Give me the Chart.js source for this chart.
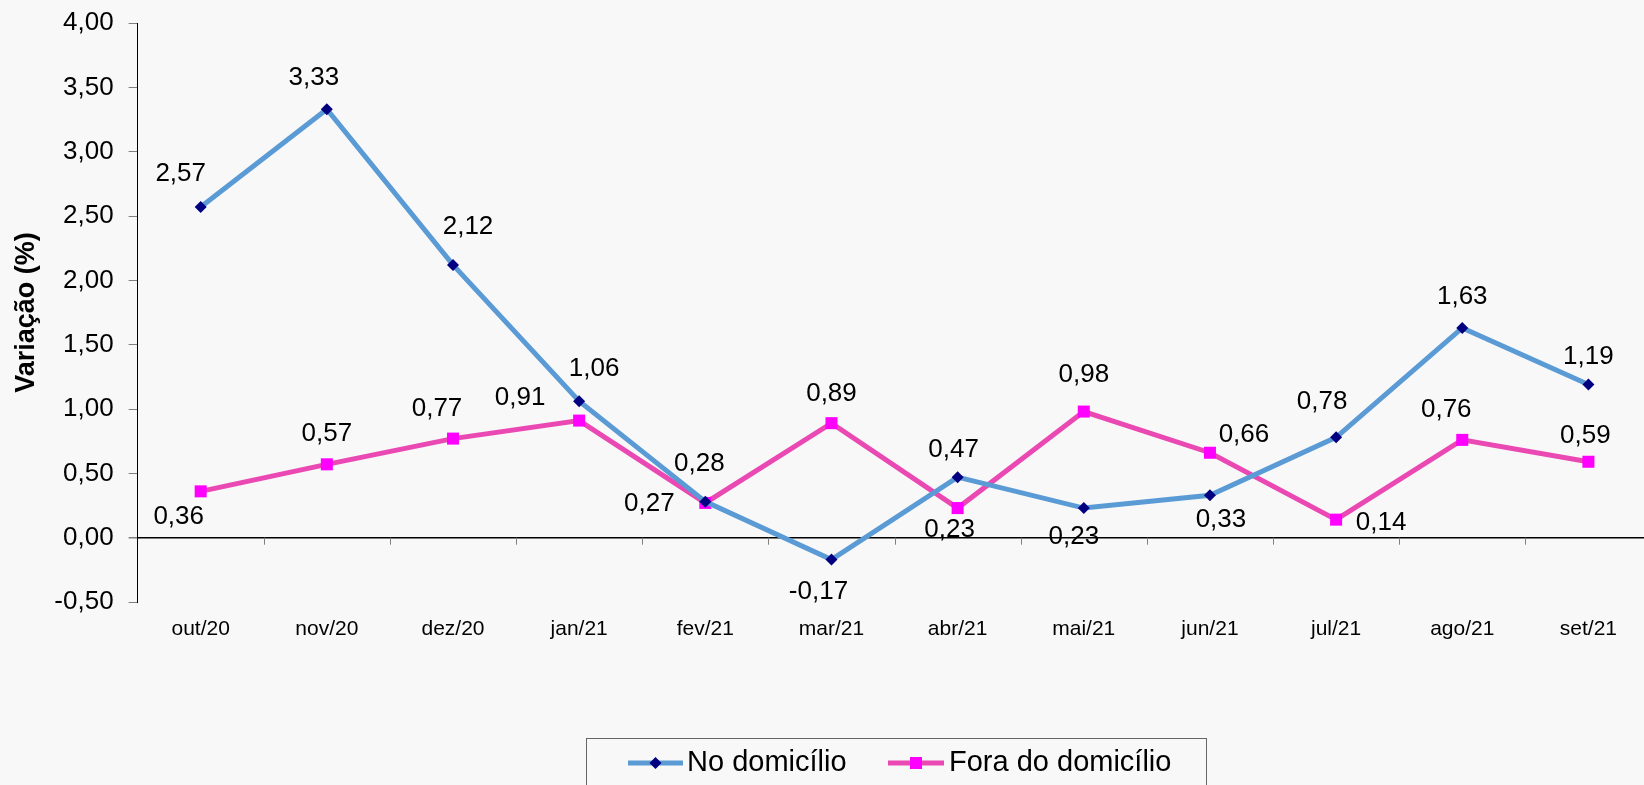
<!DOCTYPE html>
<html lang="pt">
<head>
  <meta charset="UTF-8">
  <title>Variação (%) - No domicílio / Fora do domicílio</title>
  <style>
    html, body {
      margin: 0;
      padding: 0;
      background: #f8f8f8;
      overflow: hidden;
    }
    #wrap {
      position: relative;
      width: 1660px;
      height: 785px;
    }
  </style>
</head>
<body>

  <div id="wrap">
    <canvas id="chartCanvas"></canvas>
  </div>

  <script src="https://cdn.jsdelivr.net/npm/chart.js"></script>

  <script>
    // dados
    const meses = ['out/20', 'nov/20', 'dez/20', 'jan/21', 'fev/21', 'mar/21',
                   'abr/21', 'mai/21', 'jun/21', 'jul/21', 'ago/21', 'set/21'];
    const noDomicilio = [2.57, 3.33, 2.12, 1.06, 0.28, -0.17, 0.47, 0.23, 0.33, 0.78, 1.63, 1.19];
    const foraDomicilio = [0.36, 0.57, 0.77, 0.91, 0.27, 0.89, 0.23, 0.98, 0.66, 0.14, 0.76, 0.59];
    const nomes = ['No domicílio', 'Fora do domicílio'];

    // deslocamento dos rótulos em px (dx, dy) em relação ao ponto
    const rotulosNo = [[-20, -33], [-13, -31], [15, -38], [15, -32], [-6, -38], [-13, 32],
                       [-4, -27], [-10, 29], [11, 25], [-14, -35], [0, -31], [0, -28]];
    const rotulosFora = [[-22, 25], [0, -30], [-16, -30], [-59, -23], [-56, 1], [0, -29],
                         [-8, 22], [0, -37], [34, -18], [45, 3], [-16, -30], [-3, -26]];

    const fonte = '"Liberation Sans", Arial, sans-serif';
    const fmt = v => v.toFixed(2).replace('.', ',');

    // rótulos de valor
    const valueLabels = {
      id: 'valueLabels',
      afterDatasetsDraw(chart) {
        const ctx = chart.ctx;
        const offs = [rotulosNo, rotulosFora];
        ctx.save();
        ctx.font = '26px ' + fonte;
        ctx.fillStyle = '#000';
        ctx.textAlign = 'center';
        ctx.textBaseline = 'middle';
        chart.data.datasets.forEach((ds, d) => {
          chart.getDatasetMeta(d).data.forEach((pt, i) => {
            const o = offs[d][i];
            ctx.fillText(fmt(ds.data[i]), pt.x + o[0], pt.y + o[1]);
          });
        });
        ctx.restore();
      }
    };

    // marcas do eixo das categorias sobre a linha do zero
    const zeroTicks = {
      id: 'zeroTicks',
      beforeDatasetsDraw(chart) {
        const ctx = chart.ctx;
        const x = chart.scales.x;
        const y0 = chart.scales.y.getPixelForValue(0);
        ctx.save();
        ctx.strokeStyle = '#808080';
        ctx.lineWidth = 1;
        ctx.beginPath();
        for (let i = 1; i <= meses.length; i++) {
          const px = Math.round(x.getPixelForValue(i - 0.5)) + 0.5;
          ctx.moveTo(px, y0);
          ctx.lineTo(px, y0 + 7);
        }
        ctx.stroke();
        ctx.restore();
      }
    };

    // legenda em caixa
    const boxLegend = {
      id: 'boxLegend',
      afterDraw(chart) {
        const ctx = chart.ctx;
        const ds = chart.data.datasets;
        const items = [{ x1: 628, x2: 683, tx: 687 }, { x1: 888, x2: 944, tx: 949 }];
        const ly = 763;
        ctx.save();
        ctx.strokeStyle = '#666';
        ctx.lineWidth = 1;
        ctx.strokeRect(586.5, 738.5, 620, 80);
        items.forEach((it, d) => {
          ctx.strokeStyle = ds[d].borderColor;
          ctx.lineWidth = 5;
          ctx.beginPath();
          ctx.moveTo(it.x1, ly);
          ctx.lineTo(it.x2, ly);
          ctx.stroke();
          const cx = (it.x1 + it.x2) / 2;
          ctx.fillStyle = ds[d].pointBackgroundColor;
          if (d === 0) {
            ctx.beginPath();
            ctx.moveTo(cx, ly - 6);
            ctx.lineTo(cx + 6, ly);
            ctx.lineTo(cx, ly + 6);
            ctx.lineTo(cx - 6, ly);
            ctx.closePath();
            ctx.fill();
          } else {
            ctx.fillRect(cx - 6, ly - 6, 12, 12);
          }
          ctx.fillStyle = '#000';
          ctx.font = '29px ' + fonte;
          ctx.textAlign = 'left';
          ctx.textBaseline = 'middle';
          ctx.fillText(ds[d].label, it.tx, ly);
        });
        ctx.restore();
      }
    };

    const ctx = document.getElementById('chartCanvas').getContext('2d');
    new Chart(ctx, {
      type: 'line',
      data: {
        labels: meses,
        datasets: [{
          label: nomes[0],
          data: noDomicilio,
          borderColor: '#5b9bd5',
          borderWidth: 5,
          pointStyle: 'rectRot',
          pointRadius: 6,
          pointBackgroundColor: '#000080',
          pointBorderWidth: 0,
          tension: 0
        }, {
          label: nomes[1],
          data: foraDomicilio,
          borderColor: '#ea48b2',
          borderWidth: 5,
          pointStyle: 'rect',
          pointRadius: 8.5,
          pointBackgroundColor: '#ff00ff',
          pointBorderWidth: 0,
          tension: 0
        }]
      },
      options: {
        responsive: true,
        maintainAspectRatio: false,
        animation: false,
        layout: { padding: { top: 23, right: 1.5, bottom: 113, left: 0 } },
        plugins: {
          legend: { display: false },
          tooltip: { enabled: false }
        },
        scales: {
          x: {
            offset: true,
            border: { display: false },
            grid: { display: false },
            ticks: {
              color: '#000',
              padding: 7,
              font: { family: fonte, size: 21 },
              maxRotation: 0,
              autoSkip: false
            },
            afterFit(scale) { scale.height = 70; }
          },
          y: {
            min: -0.5,
            max: 4,
            border: { display: true, color: '#000', width: 1 },
            grid: {
              drawOnChartArea: true,
              drawTicks: true,
              tickLength: 9,
              tickColor: '#808080',
              color: c => (c.tick && c.tick.value === 0 ? '#000' : 'rgba(0,0,0,0)'),
              lineWidth: c => (c.tick && c.tick.value === 0 ? 1.5 : 1)
            },
            ticks: {
              stepSize: 0.5,
              color: '#000',
              padding: 15,
              font: { family: fonte, size: 26 },
              callback: v => fmt(v)
            },
            title: {
              display: true,
              text: 'Variação (%)',
              color: '#000',
              padding: { top: 10, bottom: 0 },
              font: { family: fonte, size: 27, weight: 'bold' }
            },
            afterFit(scale) {
              scale.width = 137.6;
              scale.paddingTop = 0;
              scale.paddingBottom = 0;
            }
          }
        }
      },
      plugins: [zeroTicks, valueLabels, boxLegend]
    });
  </script>

</body>
</html>
